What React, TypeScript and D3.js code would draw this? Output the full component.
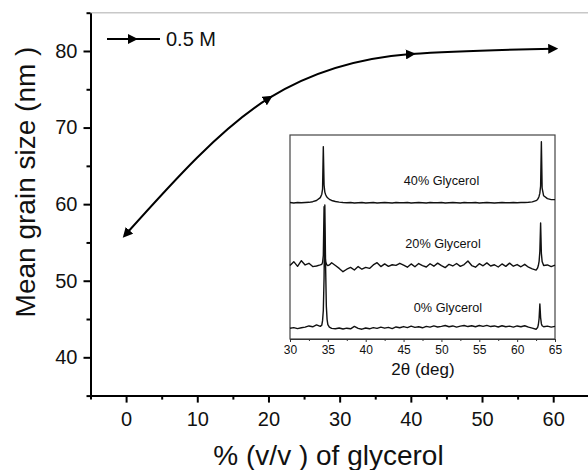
import React, { useEffect, useRef } from 'react';
import * as d3 from 'd3';

// main plot: grain size vs glycerol content
const glycerol = [0, 20, 40, 60];
const grainSize = [56.1, 73.8, 79.6, 80.3];
const legendLabel = '0.5 M';
const yMajorTicks = [40, 50, 60, 70, 80];
const yMinorTicks = [35, 45, 55, 65, 75, 85];
const xMajorTicks = [0, 10, 20, 30, 40, 50, 60];
const xMinorTicks = [-5, 5, 15, 25, 35, 45, 55, 65];

// inset: XRD patterns (arbitrary intensity, offset)
const twoTheta = [
  30.0, 30.5, 31.0, 31.5, 32.0, 32.5, 33.0, 33.5, 34.0,
  34.2, 34.3, 34.4, 34.5, 34.6, 34.7, 34.8, 34.9, 35.0,
  35.2, 35.5,
  36.0, 36.5, 37.0, 37.5, 38.0, 38.5, 39.0, 39.5, 40.0, 40.5,
  41.0, 41.5, 42.0, 42.5, 43.0, 43.5, 44.0, 44.5, 45.0, 45.5,
  46.0, 46.5, 47.0, 47.5, 48.0, 48.5, 49.0, 49.5, 50.0, 50.5,
  51.0, 51.5, 52.0, 52.5, 53.0, 53.5, 54.0, 54.5, 55.0, 55.5,
  56.0, 56.5, 57.0, 57.5, 58.0, 58.5, 59.0, 59.5, 60.0, 60.5,
  61.0, 61.5, 62.0, 62.5,
  62.7, 62.8, 62.9, 63.0, 63.1, 63.2, 63.3,
  63.5, 64.0, 64.5, 65.0,
];
const counts40 = [
  66.9, 66.7, 66.9, 66.8, 66.9, 67.0, 67.3, 67.9, 69.3,
  71.0, 73.5, 94.3, 75.5, 72.0, 70.8, 70.0, 69.5, 69.1,
  68.5, 67.9,
  67.4, 67.1, 66.9, 66.8, 66.9, 66.7, 66.8, 66.9, 66.7, 66.8,
  66.9, 66.7, 66.8, 66.9, 66.8, 66.7, 66.9, 66.8, 66.8, 66.9,
  66.7, 66.8, 66.9, 66.8, 66.7, 66.9, 66.8, 66.8, 66.9, 66.7,
  66.8, 66.9, 66.8, 66.7, 66.9, 66.8, 66.8, 66.9, 66.7, 66.8,
  66.9, 66.8, 66.7, 66.8, 66.9, 66.8, 66.8, 66.9, 66.8, 66.9,
  66.9, 67.0, 67.2, 67.8,
  68.4, 69.0, 70.0, 71.5, 75.0, 96.7, 74.0,
  70.2, 68.8, 68.3, 68.3,
];
const counts20 = [
  36.0, 37.9, 35.6, 38.4, 36.3, 37.1, 35.5, 35.8, 36.3,
  36.6, 37.5, 41.0, 64.9, 42.0, 38.0, 36.8, 36.2, 36.0,
  36.3, 37.4,
  36.0, 34.6, 33.0, 34.2, 35.1, 33.8, 35.5, 34.2, 35.1, 34.6,
  36.3, 37.4, 35.5, 36.8, 35.6, 36.4, 36.1, 37.1, 36.2, 35.2,
  36.8, 35.4, 37.0, 36.0, 35.3, 36.9, 35.7, 37.2, 36.0, 35.0,
  36.6, 35.8, 37.0, 35.6, 36.5, 38.2, 36.0, 35.2, 36.9, 35.9,
  37.3, 35.8, 36.4, 35.3, 36.8, 35.6, 37.2, 35.7, 36.5, 35.4,
  36.6, 35.2, 34.4, 33.8,
  34.8, 36.0, 38.0, 43.0, 56.9, 42.0, 38.0,
  36.0, 36.3, 35.5, 36.2,
];
const counts0 = [
  5.3, 5.6, 5.1, 5.5, 5.8, 6.4, 6.0, 6.9, 6.2,
  6.8, 9.0, 14.0, 30.0, 65.7, 36.0, 16.0, 9.5, 7.0,
  5.8, 5.2,
  5.0, 5.4, 4.9, 5.3, 5.0, 6.2, 5.2, 4.8, 5.4, 5.0,
  5.6, 5.2, 5.8, 5.3, 5.7, 5.1, 5.9, 5.5, 6.1, 5.6,
  6.3, 5.7, 6.0, 5.5, 6.2, 5.8, 6.4, 5.9, 6.2, 6.6,
  6.0, 6.4, 5.8, 6.3, 6.6, 6.1, 6.5, 6.0, 6.6, 6.2,
  6.7, 6.1, 6.4, 5.9, 6.5, 6.0, 6.3, 5.8, 6.4, 6.0,
  6.5, 5.8, 5.3, 4.8,
  5.6, 7.0, 10.0, 17.2, 10.5, 7.5, 6.5,
  6.0, 6.3, 5.8, 6.2,
];
const insetLabels = ['40% Glycerol', '20% Glycerol', '0% Glycerol'];
const insetTicks = [30, 35, 40, 45, 50, 55, 60, 65];
const insetMinorTicks = [32.5, 37.5, 42.5, 47.5, 52.5, 57.5, 62.5];

const FONT = '"Liberation Sans", Arial, Helvetica, sans-serif';

export default function App() {
  const yAxisRef = useRef<SVGGElement>(null);
  const xAxisRef = useRef<SVGGElement>(null);
  const insetAxisRef = useRef<SVGGElement>(null);

  const x = d3.scaleLinear().domain([-5, 65]).range([90.5, 588.8]);
  const y = d3.scaleLinear().domain([35, 85]).range([395.6, 12.7]);
  const xi = d3.scaleLinear().domain([30, 65]).range([290, 555]);
  const yi = d3.scaleLinear().domain([0, 100]).range([339, 135]);

  const mainLine = d3.line<number>()
    .x((d, i) => x(glycerol[i]))
    .y(d => y(d))
    .curve(d3.curveMonotoneX);

  const xrdLine = d3.line<number>()
    .x((d, i) => xi(twoTheta[i]))
    .y(d => yi(d));

  useEffect(() => {
    const ya = d3.select(yAxisRef.current);
    ya.selectAll('*').remove();
    ya.append('g').call(d3.axisLeft(y).tickValues(yMajorTicks).tickSize(7).tickSizeOuter(0).tickPadding(6));
    ya.append('g').call(d3.axisLeft(y).tickValues(yMinorTicks).tickSize(4).tickFormat(() => ''))
      .select('.domain').remove();

    const xa = d3.select(xAxisRef.current);
    xa.selectAll('*').remove();
    xa.append('g').call(d3.axisBottom(x).tickValues(xMajorTicks).tickSize(7).tickSizeOuter(0).tickPadding(9));
    xa.append('g').call(d3.axisBottom(x).tickValues(xMinorTicks).tickSize(4).tickFormat(() => ''))
      .select('.domain').remove();

    [ya, xa].forEach(g => {
      g.selectAll('path, line').attr('stroke', '#000').attr('stroke-width', 2);
      g.selectAll('text').attr('font-size', 20).attr('font-family', FONT).attr('fill', '#111');
    });

    const ia = d3.select(insetAxisRef.current);
    ia.selectAll('*').remove();
    ia.append('g').call(d3.axisBottom(xi).tickValues(insetTicks).tickSize(3).tickSizeOuter(0).tickPadding(3));
    ia.append('g').call(d3.axisBottom(xi).tickValues(insetMinorTicks).tickSize(2).tickFormat(() => ''))
      .select('.domain').remove();
    ia.selectAll('path, line').attr('stroke', '#333').attr('stroke-width', 1);
    ia.selectAll('text').attr('font-size', 12).attr('font-family', FONT).attr('fill', '#111');
  }, []);

  const traces = [counts40, counts20, counts0];
  const labelPos = [
    { x: 441.5, y: 185 },
    { x: 443, y: 248 },
    { x: 448, y: 312 },
  ];

  return (
    <svg width={588} height={470} style={{ position: 'absolute', left: 0, top: 0, background: '#fff' }} fontFamily={FONT}>
      <defs>
        <marker id="tri" viewBox="0 0 10 10" refX={5} refY={5} markerWidth={10} markerHeight={10}
          markerUnits="userSpaceOnUse" orient="auto-start-reverse">
          <path d="M0,0 L10,5 L0,10 Z" fill="#000" />
        </marker>
      </defs>

      {/* top frame line */}
      <line x1={x(-5)} x2={588} y1={y(85)} y2={y(85)} stroke="#c8c8c8" strokeWidth={1.5} />

      <g ref={yAxisRef} transform={`translate(${x(-5)},0)`} />
      <g ref={xAxisRef} transform={`translate(0,${y(35)})`} />

      {/* main curve */}
      <path d={mainLine(grainSize) || ''} fill="none" stroke="#000" strokeWidth={2}
        markerStart="url(#tri)" markerMid="url(#tri)" markerEnd="url(#tri)" />

      {/* legend */}
      <path d="M107,39 L133,39 L160,39" fill="none" stroke="#000" strokeWidth={2} markerMid="url(#tri)" />
      <text x={166} y={46} fontSize={20} fill="#111">{legendLabel}</text>

      {/* axis titles */}
      <text transform="translate(35,182) rotate(-90)" textAnchor="middle" fontSize={28} fill="#111">
        Mean grain size (nm )
      </text>
      <text x={328.5} y={465} textAnchor="middle" fontSize={28} fill="#111">% (v/v ) of glycerol</text>

      {/* inset */}
      <rect x={xi(30)} y={yi(100)} width={xi(65) - xi(30)} height={yi(0) - yi(100)}
        fill="#fff" stroke="#444" strokeWidth={1.2} />
      {traces.map((t, i) => (
        <path key={i} d={xrdLine(t) || ''} fill="none" stroke="#111" strokeWidth={1.4} strokeLinejoin="round" />
      ))}
      {insetLabels.map((l, i) => (
        <text key={l} x={labelPos[i].x} y={labelPos[i].y} textAnchor="middle" fontSize={12.7} fill="#111">{l}</text>
      ))}
      <g ref={insetAxisRef} transform={`translate(0,${yi(0)})`} />
      <text x={423} y={375} textAnchor="middle" fontSize={17} fill="#111">2θ (deg)</text>
    </svg>
  );
}
